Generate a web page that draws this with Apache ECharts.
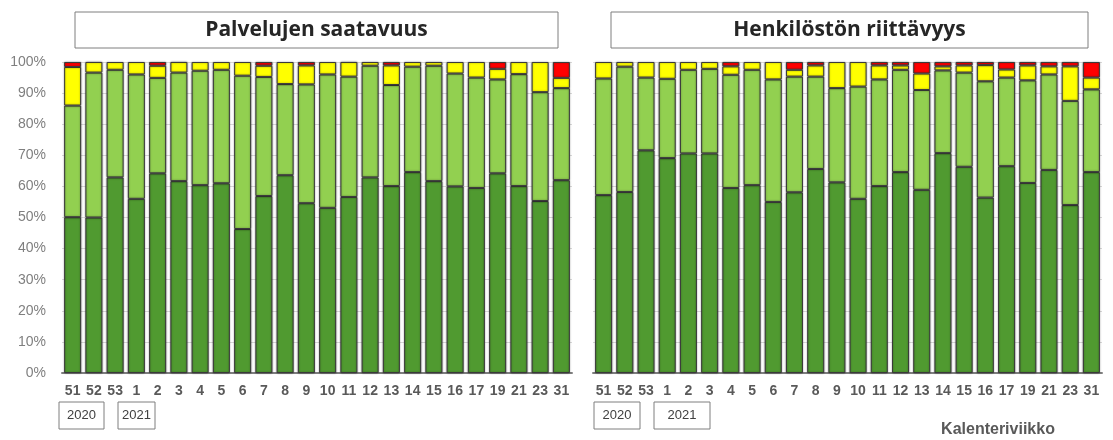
<!DOCTYPE html>
<html><head><meta charset="utf-8">
<script src="https://cdn.jsdelivr.net/npm/echarts@6/dist/echarts.min.js"></script>
<style>html,body{margin:0;padding:0;background:#fff}#c{width:1113px;height:440px}</style>
</head><body><div id="c"></div>
<script>
const weeks = ['51','52','53','1','2','3','4','5','6','7','8','9','10','11','12','13','14','15','16','17','19','21','23','31'];
const yTicks = [0,10,20,30,40,50,60,70,80,90,100];
const titles = ['Palvelujen saatavuus', 'Henkilöstön riittävyys'];
const years = ['2020', '2021'];
const xName = 'Kalenteriviikko';

// Palvelujen saatavuus (%)
const leftDark   = [50.1,50.0,62.9,56.0,64.2,61.7,60.4,61.0,46.3,56.9,63.6,54.6,53.1,56.6,62.9,60.1,64.6,61.7,60.0,59.5,64.2,60.1,55.3,62.0];
const leftLight  = [35.9,46.6,34.6,40.0,30.7,34.9,36.8,36.5,49.3,38.3,29.3,38.2,42.9,38.7,35.9,32.5,33.9,37.1,36.3,35.5,30.2,36.0,35.0,29.6];
const leftYellow = [12.4,3.4,2.5,4.0,3.9,3.4,2.8,2.5,4.4,3.6,7.1,6.1,4.0,4.7,1.2,6.3,1.5,1.2,3.7,5.0,3.4,3.9,9.7,3.3];
const leftRed    = [1.6,0,0,0,1.2,0,0,0,0,1.2,0,1.1,0,0,0,1.1,0,0,0,0,2.2,0,0,5.1];

// Henkilöstön riittävyys (%)
const rightDark   = [57.2,58.2,71.6,69.1,70.6,70.6,59.5,60.4,55.0,58.1,65.6,61.3,56.0,60.1,64.6,58.9,70.7,66.3,56.4,66.5,61.1,65.3,54.0,64.6];
const rightLight  = [37.5,40.3,23.4,25.5,26.9,27.2,36.4,37.1,39.4,37.2,29.7,30.3,36.1,34.3,32.9,32.1,26.6,30.3,37.4,28.5,33.0,30.7,33.5,26.6];
const rightYellow = [5.3,1.5,5.0,5.4,2.5,2.2,2.7,2.5,5.6,2.2,3.6,8.4,7.9,4.5,1.4,5.3,1.3,2.3,5.2,2.6,4.8,2.6,11.1,3.8];
const rightRed    = [0,0,0,0,0,0,1.4,0,0,2.5,1.1,0,0,1.1,1.1,3.7,1.4,1.1,1.0,2.4,1.1,1.4,1.4,5.0];

const colors = ['#509a30','#92d050','#ffff00','#ff0000'];
const chart = echarts.init(document.getElementById('c'));

function mkSeries(idx, arrs, stack){
  return arrs.map((d,i)=>({
    type:'bar', stack, xAxisIndex:idx, yAxisIndex:idx,
    data:d.map(v => v === 0 ? '-' : v),
    barWidth:17,
    itemStyle:{color:colors[i], borderColor:'#3a3a3a', borderWidth:1,
      shadowColor:'rgba(0,0,0,0.4)', shadowBlur:2},
    emphasis:{disabled:true}
  }));
}
function xAx(idx){
  return {type:'category', gridIndex:idx, data:weeks,
    axisTick:{show:false},
    axisLine:{lineStyle:{color:'#808080', width:2}},
    axisLabel:{interval:0, color:'#595959', fontWeight:'bold', fontSize:14, fontFamily:'Liberation Sans', margin:11}};
}
function yAx(idx, show){
  return {type:'value', gridIndex:idx, min:yTicks[0], max:yTicks[yTicks.length-1], interval:10,
    axisLine:{show:false}, axisTick:{show:false},
    splitLine:{lineStyle:{color:'#d9d9d9'}},
    axisLabel:{show:show, formatter:'{value}%', color:'#7f7f7f', fontSize:14, fontFamily:'Liberation Sans', margin:16}};
}
function box(x,y,w,h,text,font,color){
  return {type:'group', children:[
    {type:'rect', shape:{x:x,y:y,width:w,height:h}, style:{fill:'#fff', stroke:'#7f7f7f', lineWidth:1}},
    {type:'text', x:x+w/2, y:y+h/2, style:{text:text, fill:color, font:font, textAlign:'center', textVerticalAlign:'middle'}}
  ]};
}

chart.setOption({
  animation:false,
  grid:[
    {left:62, right:1113-572, top:62, bottom:440-373},
    {left:593, right:1113-1102, top:62, bottom:440-373}
  ],
  xAxis:[xAx(0), xAx(1)],
  yAxis:[yAx(0,true), yAx(1,false)],
  series:[
    ...mkSeries(0,[leftDark,leftLight,leftYellow,leftRed],'L'),
    ...mkSeries(1,[rightDark,rightLight,rightYellow,rightRed],'R')
  ],
  graphic:[
    box(75,12,483,36,titles[0],'bold 21px "Open Sans"','#262626'),
    box(611,12,477,36,titles[1],'bold 21px "Open Sans"','#262626'),
    box(59,402,45,27,years[0],'13px "Liberation Sans"','#404040'),
    box(118,402,37,27,years[1],'13px "Liberation Sans"','#404040'),
    box(594,402,46,27,years[0],'13px "Liberation Sans"','#404040'),
    box(654,402,56,27,years[1],'13px "Liberation Sans"','#404040'),
    {type:'text', x:998, y:430, style:{text:xName, fill:'#595959', font:'bold 16px "Liberation Sans"', textAlign:'center', textVerticalAlign:'middle'}}
  ]
});
</script></body></html>
